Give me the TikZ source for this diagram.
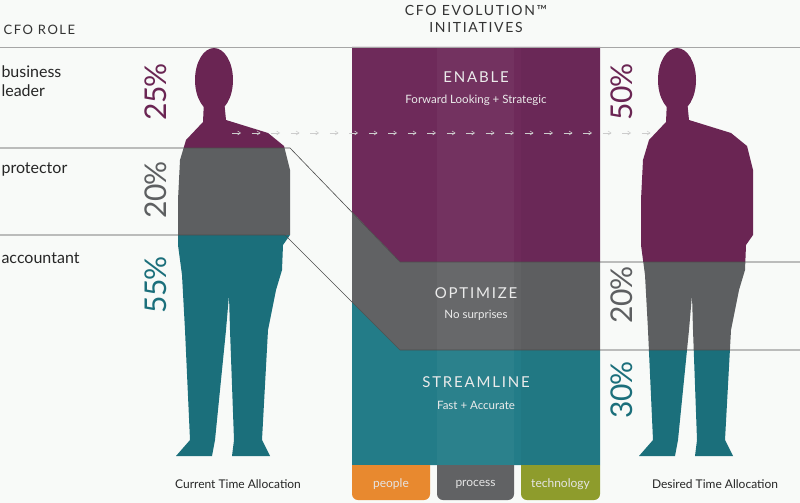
\documentclass[tikz,border=0pt]{standalone}
\usepackage{fontspec}
\usetikzlibrary{arrows.meta}
\setmainfont{Lato}
\newfontfamily\capsf[LetterSpace=12]{Lato}
\begin{document}
\begin{tikzpicture}[x=1pt,y=-1pt,
  lbl/.style={anchor=west,font=\fontsize{16}{19}\selectfont,text=black!85},
  pct/.style={rotate=90,font=\fontsize{30}{30}\selectfont\addfontfeature{LetterSpace=-4}},
  head/.style={font=\capsf\fontsize{15}{15}\selectfont,text=white!92!black},
  sub/.style={font=\fontsize{11.5}{11.5}\selectfont,text=white!92!black},
  tab/.style={font=\fontsize{12}{12}\selectfont,text=white!90!black},
  bline/.style={draw=black!70,line width=0.6pt},
  arr/.style={-{Straight Barb[length=3pt,width=4pt]},draw=white!80!black,line width=0.5pt}]
\definecolor{mag}{HTML}{6E2A5A}
\definecolor{gry}{HTML}{616264}
\definecolor{tel}{HTML}{237C88}
\definecolor{smag}{HTML}{6A2553}
\definecolor{sgry}{HTML}{5D5F61}
\definecolor{stel}{HTML}{1B6F7B}
\definecolor{bg}{HTML}{F8FAF8}
\definecolor{org}{HTML}{E8892F}
\definecolor{olv}{HTML}{8E9C2C}
\useasboundingbox (0,0) rectangle (800,503);
\fill[bg] (0,0) rectangle (800,503);
\def\man{(204,100) -- (224,100) -- (226,120) -- (268,133) -- (284,146) -- (290,170) -- (290,235) -- (283,245) -- (282,270) -- (276,290) -- (268,330) -- (262,440) -- (270,456) -- (232,456) -- (234,440) -- (230,330) -- (229,295) -- (226,330) -- (215,440) -- (212,456) -- (176,456) -- (190,440) -- (185,330) -- (182,275) -- (178,245) -- (178,200) -- (180,160) -- (186,140) -- (203,122) -- cycle (214,80) ellipse [x radius=19, y radius=32]}
\begin{scope}
\clip \man;
\fill[smag] (150,40) rectangle (300,148);
\fill[sgry] (150,148) rectangle (300,235);
\fill[stel] (150,235) rectangle (300,470);
\end{scope}
\begin{scope}[xshift=463pt]
\clip \man;
\fill[smag] (150,40) rectangle (300,262);
\fill[sgry] (150,262) rectangle (300,350);
\fill[stel] (150,350) rectangle (300,470);
\end{scope}
\fill[mag] (352,47) -- (600,47) -- (600,262) -- (400,262) -- (352,212) -- cycle;
\fill[gry] (352,212) -- (400,262) -- (600,262) -- (600,350) -- (400,350) -- (352,302) -- cycle;
\fill[tel] (352,302) -- (400,350) -- (600,350) -- (600,465) -- (352,465) -- cycle;
\fill[white,opacity=0.04] (437,47) rectangle (514,465);
\fill[black,opacity=0.03] (521,47) rectangle (600,465);
\fill[org] (352,465) -- (430,465) -- (430,494) arc[start angle=0,end angle=90,radius=6] -- (358,500) arc[start angle=90,end angle=180,radius=6] -- cycle;
\fill[gry] (437,465) -- (514,465) -- (514,494) arc[start angle=0,end angle=90,radius=6] -- (443,500) arc[start angle=90,end angle=180,radius=6] -- cycle;
\fill[olv] (521,465) -- (600,465) -- (600,494) arc[start angle=0,end angle=90,radius=6] -- (527,500) arc[start angle=90,end angle=180,radius=6] -- cycle;
\node[tab] (tp) at (391,484) {people};
\node[tab] (tq) at (475.5,484) {process};
\node[tab] (tt) at (560.5,484) {technology};
\draw[draw=black!35,line width=0.5pt] (0,47) -- (800,47);
\coordinate (a1) at (0,148); \coordinate (a2) at (290,148); \coordinate (a3) at (400,262); \coordinate (a4) at (800,262);
\coordinate (b1) at (0,235); \coordinate (b2) at (285,235); \coordinate (b3) at (400,350); \coordinate (b4) at (800,350);
\draw[bline] (a1) -- (a2) -- (a3) -- (a4);
\draw[bline] (b1) -- (b2) -- (b3) -- (b4);
\foreach \i in {0,...,21} { \draw[arr] (232+\i*19.5,133) -- +(9,0); }
\node[font=\capsf\fontsize{13}{13}\selectfont,text=black!80,anchor=west] (role) at (0,30) {CFO ROLE};
\node[font=\capsf\fontsize{14}{17}\selectfont,text=black!80,align=center] (title) at (476,19) {CFO EVOLUTION™\\INITIATIVES};
\node[lbl,align=left] (bl) at (-2,81) {business\\leader};
\node[lbl] (pr) at (-2,170) {protector};
\node[lbl] (ac) at (-2,258) {accountant};
\node[pct,text=smag] (p1) at (156,92) {25\%};
\node[pct,text=sgry] (p2) at (156,190) {20\%};
\node[pct,text=stel] (p3) at (156,285) {55\%};
\node[pct,text=smag] (q1) at (622,92) {50\%};
\node[pct,text=sgry] (q2) at (622,295) {20\%};
\node[pct,text=stel] (q3) at (622,390) {30\%};
\node[head] (en) at (476,77) {ENABLE};
\node[sub] (ens) at (476,100) {Forward Looking + Strategic};
\node[head] (op) at (476,293) {OPTIMIZE};
\node[sub] (ops) at (476,315) {No surprises};
\node[head] (st) at (476,382) {STREAMLINE};
\node[sub] (sts) at (476,405) {Fast + Accurate};
\node[font=\fontsize{12}{12}\selectfont,text=black!85] (cur) at (238,484) {Current Time Allocation};
\node[font=\fontsize{12}{12}\selectfont,text=black!85] (des) at (715,484) {Desired Time Allocation};
\end{tikzpicture}
\end{document}
